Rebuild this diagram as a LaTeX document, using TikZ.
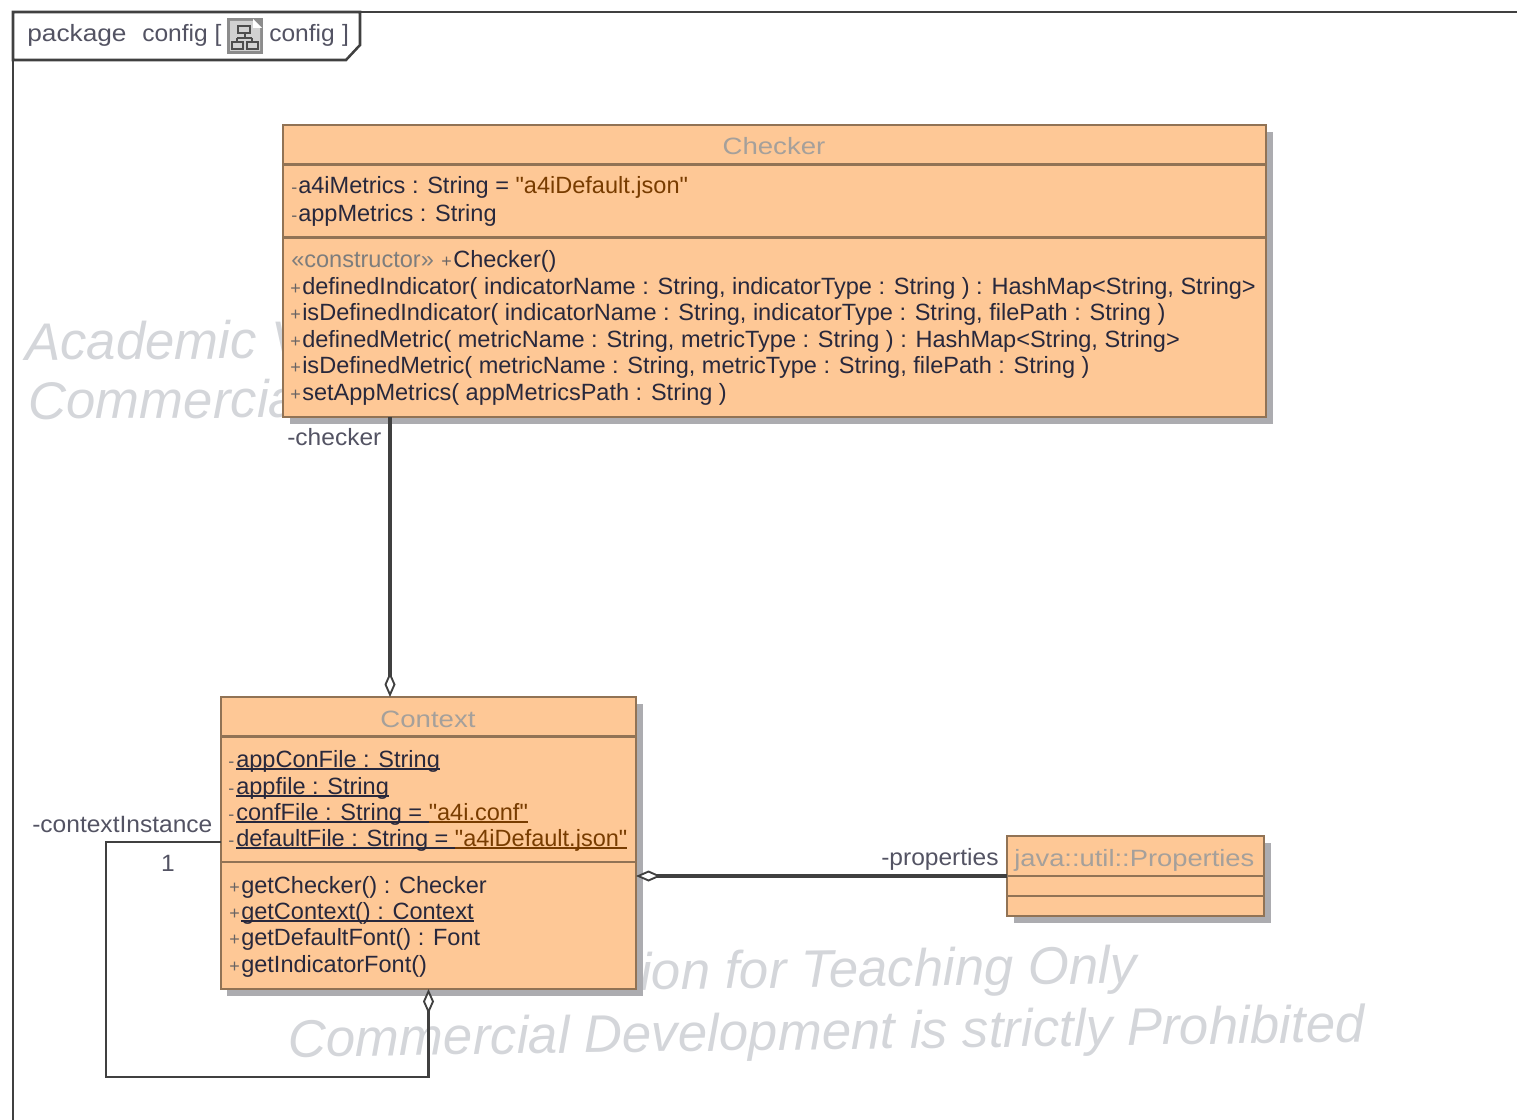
\documentclass[tikz,border=0pt]{standalone}
\usepackage{fontspec}
\usetikzlibrary{arrows.meta}
\setmainfont{Liberation Sans}
\newfontfamily\umlfont{Liberation Sans}
\definecolor{boxfill}{RGB}{254,200,150}
\definecolor{boxline}{RGB}{145,115,85}
\definecolor{shadowc}{RGB}{172,172,176}
\definecolor{linec}{RGB}{64,64,64}
\definecolor{txt}{RGB}{40,40,60}
\definecolor{strc}{RGB}{120,60,0}
\definecolor{wmark}{RGB}{212,214,218}
\definecolor{stereo}{RGB}{125,125,125}
\definecolor{signc}{RGB}{105,100,100}
\definecolor{titlec}{RGB}{165,160,155}
\newcommand{\ulbox}[1]{\setbox0\hbox{#1}\rlap{\rule[-2.6pt]{\wd0}{1.6pt}}\box0}
\tikzset{
  classbox/.style={draw=boxline,line width=2.2pt,fill=boxfill,outer sep=0pt,inner sep=0pt,anchor=north west},
  shadowbox/.style={fill=shadowc,draw=none},
  sep/.style={draw=boxline,line width=2.2pt},
  framel/.style={draw=linec,line width=1.9pt},
  conn/.style={draw=linec,line width=2.4pt},
  thinconn/.style={draw=linec,line width=1.8pt},
  aggr/.style={-{Diamond[length=25*0.75pt,width=11*0.75pt,fill=white,line width=1.4pt]}},
  member/.style={anchor=base west,inner sep=0pt,font=\umlfont\fontsize{17.65pt}{20pt}\selectfont,text=txt},
  sign/.style={anchor=base west,inner sep=0pt,font=\umlfont\fontsize{13.5pt}{20pt}\selectfont,text=signc},
  title/.style={anchor=base,inner sep=0pt,font=\umlfont\fontsize{17.7pt}{20pt}\selectfont,text=titlec,xscale=1.17,transform shape},
  lab/.style={anchor=base west,inner sep=0pt,font=\umlfont\fontsize{17.7pt}{20pt}\selectfont,text=txt!80,xscale=1.04,transform shape},
  wm/.style={anchor=base west,inner sep=0pt,font=\umlfont\fontsize{39.6pt}{44pt}\itshape\selectfont,text=wmark}
}
\begin{document}
\begin{tikzpicture}[x=0.75pt,y=-0.75pt]
\useasboundingbox (0,0) rectangle (1517,1120);
% watermarks
\node[wm,rotate=0.3] (wa1) at (25,360) {Academic V};
\node[wm,rotate=0.3] (wa2) at (28,419) {Commercial};
\node[wm,rotate=0.8] (wb1) at (640,990) {ion for Teaching Only};
\node[wm,rotate=0.8] (wb2) at (288,1057) {Commercial Development is strictly Prohibited};
% frame
\draw[framel] (1517,12) -- (13,12) -- (13,1120);
\draw[framel,fill=white] (13,12) -- (360,12) -- (360,45) -- (346,60) -- (13,60) -- cycle;
\node[lab,xscale=1.07] (fa) at (27,42) {package};
\node[lab] (fb) at (142,42) {config [};
\node[lab] (fc) at (269,42) {config\hspace{0.3em}]};
% package icon
\fill[black!45] (227,18) -- (263,18) -- (263,54) -- (227,54) -- cycle;
\fill[black!18] (230,21) -- (253,21) -- (260,28) -- (260,51) -- (230,51) -- cycle;
\fill[white] (253,19) -- (262,28) -- (253,28) -- cycle;
\draw[black!70,line width=1pt] (238,26) rectangle (250,33) (245,33) -- (245,38) (237,38) -- (252,38) (237,38) -- (237,42) (252,38) -- (252,42) (232,42) rectangle (243,49) (247,42) rectangle (258,49);
% Checker
\fill[shadowbox] (290,132) rectangle (1273,424);
\node[classbox,minimum width=983*0.75pt,minimum height=292*0.75pt] (checker) at (283,125) {};
\draw[sep] (283,164.5) -- (1266,164.5);
\draw[sep] (283,237.5) -- (1266,237.5);
\node[title] (tc) at (774,155) {Checker};
\node[sign] (s1) at (291,194) {-};
\node[member] (m1) at (298,194) {a4iMetrics : String = \textcolor{strc}{"a4iDefault.json"}};
\node[sign] (s2) at (291,221) {-};
\node[member] (m2) at (298,221) {appMetrics : String};
\node[member,text=stereo] (m3s) at (291,267) {«constructor»};
\node[sign] (s3) at (441,267) {+};
\node[member] (m3) at (453,267) {Checker()};
\node[sign] (s4) at (290,294) {+};
\node[member] (m4) at (302,294) {definedIndicator( indicatorName : String, indicatorType : String ) : HashMap<String, String>};
\node[sign] (s5) at (290,320) {+};
\node[member] (m5) at (302,320) {isDefinedIndicator( indicatorName : String, indicatorType : String, filePath : String )};
\node[sign] (s6) at (290,347) {+};
\node[member] (m6) at (302,347) {definedMetric( metricName : String, metricType : String ) : HashMap<String, String>};
\node[sign] (s7) at (290,373) {+};
\node[member] (m7) at (302,373) {isDefinedMetric( metricName : String, metricType : String, filePath : String )};
\node[sign] (s8) at (290,400) {+};
\node[member] (m8) at (302,400) {setAppMetrics( appMetricsPath : String )};
% Context
\fill[shadowbox] (227,704) rectangle (643,996);
\node[classbox,minimum width=415*0.75pt,minimum height=292*0.75pt] (context) at (221,697) {};
\draw[sep] (221,736.5) -- (636,736.5);
\draw[sep] (221,862) -- (636,862);
\node[title] (tx) at (428,727) {Context};
\node[sign] (x1s) at (228,767) {-};
\node[member] (x1) at (236,767) {\ulbox{appConFile : String}};
\node[sign] (x2s) at (228,794) {-};
\node[member] (x2) at (236,794) {\ulbox{appfile : String}};
\node[sign] (x3s) at (228,820) {-};
\node[member] (x3) at (236,820) {\ulbox{confFile : String = }\textcolor{strc}{\ulbox{"a4i.conf"}}};
\node[sign] (x4s) at (228,846) {-};
\node[member] (x4) at (236,846) {\ulbox{defaultFile : String = }\textcolor{strc}{\ulbox{"a4iDefault.json"}}};
\node[sign] (x5s) at (229,893) {+};
\node[member] (x5) at (241,893) {getChecker() : Checker};
\node[sign] (x6s) at (229,919) {+};
\node[member] (x6) at (241,919) {\ulbox{getContext() : Context}};
\node[sign] (x7s) at (229,945) {+};
\node[member] (x7) at (241,945) {getDefaultFont() : Font};
\node[sign] (x8s) at (229,972) {+};
\node[member] (x8) at (241,972) {getIndicatorFont()};
% Properties
\fill[shadowbox] (1014,843) rectangle (1271,923);
\node[classbox,minimum width=257*0.75pt,minimum height=80*0.75pt] (props) at (1007,836) {};
\draw[sep] (1007,876) -- (1264,876);
\draw[sep] (1007,896) -- (1264,896);
\node[title,anchor=base west,xscale=0.99] (tp) at (1014,866) {java::util::Properties};
% connectors
\coordinate (c1) at (390,500);
\coordinate (c2) at (800,876);
\coordinate (cl1) at (106,842);
\coordinate (cl2) at (428.5,1077);
\draw[conn,aggr] (checker.south -| c1) -- (context.north -| c1);
\draw[conn,aggr] (props.west |- c2) -- (context.east |- c2);
\draw[thinconn,aggr] (context.west |- cl1) -- (cl1) -- (cl1 |- cl2) -- (cl2) -- (context.south);
% labels
\node[lab] (lc) at (287,445) {-checker};
\node[lab] (lx) at (32,832) {-contextInstance};
\node[lab,anchor=base] (l1) at (168,871) {1};
\node[lab] (lp) at (881,865) {-properties};
\end{tikzpicture}
\end{document}
